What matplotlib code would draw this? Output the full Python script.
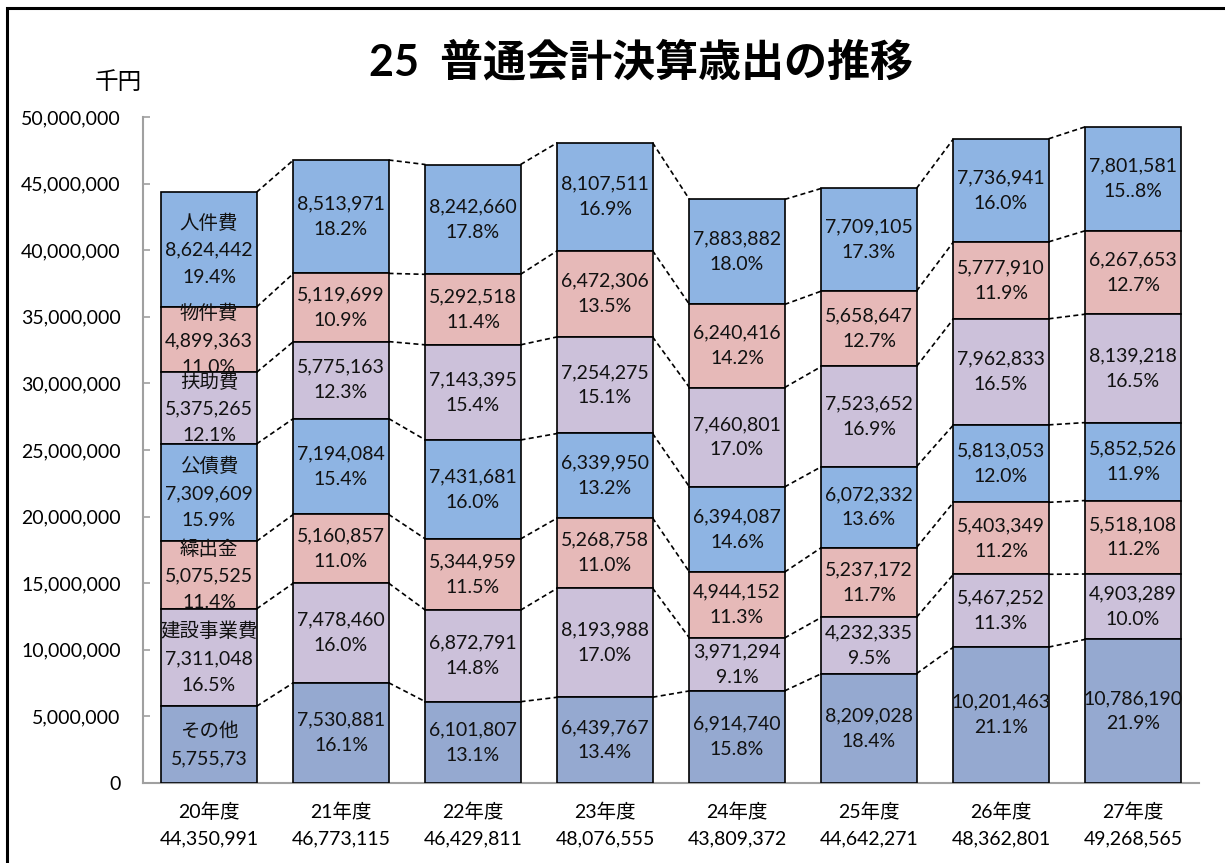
import matplotlib
matplotlib.use("Agg")
import matplotlib.pyplot as plt
from matplotlib.patches import Rectangle
import numpy as np

plt.rcParams['font.family'] = ['Lato', 'Noto Sans CJK JP', 'DejaVu Sans']

years = ["20年度", "21年度", "22年度", "23年度", "24年度", "25年度", "26年度", "27年度"]
totals = [44350991, 46773115, 46429811, 48076555, 43809372, 44642271, 48362801, 49268565]

# series, bottom to top
categories = ["その他", "建設事業費", "繰出金", "公債費", "扶助費", "物件費", "人件費"]
sonota   = [5755739, 7530881, 6101807, 6439767, 6914740, 8209028, 10201463, 10786190]
kensetsu = [7311048, 7478460, 6872791, 8193988, 3971294, 4232335, 5467252, 4903289]
kuridashi = [5075525, 5160857, 5344959, 5268758, 4944152, 5237172, 5403349, 5518108]
kousai   = [7309609, 7194084, 7431681, 6339950, 6394087, 6072332, 5813053, 5852526]
fujo     = [5375265, 5775163, 7143395, 7254275, 7460801, 7523652, 7962833, 8139218]
bukken   = [4899363, 5119699, 5292518, 6472306, 6240416, 5658647, 5777910, 6267653]
jinken   = [8624442, 8513971, 8242660, 8107511, 7883882, 7709105, 7736941, 7801581]

pct_sonota    = ["", "16.1%", "13.1%", "13.4%", "15.8%", "18.4%", "21.1%", "21.9%"]
pct_kensetsu  = ["16.5%", "16.0%", "14.8%", "17.0%", "9.1%", "9.5%", "11.3%", "10.0%"]
pct_kuridashi = ["11.4%", "11.0%", "11.5%", "11.0%", "11.3%", "11.7%", "11.2%", "11.2%"]
pct_kousai    = ["15.9%", "15.4%", "16.0%", "13.2%", "14.6%", "13.6%", "12.0%", "11.9%"]
pct_fujo      = ["12.1%", "12.3%", "15.4%", "15.1%", "17.0%", "16.9%", "16.5%", "16.5%"]
pct_bukken    = ["11.0%", "10.9%", "11.4%", "13.5%", "14.2%", "12.7%", "11.9%", "12.7%"]
pct_jinken    = ["19.4%", "18.2%", "17.8%", "16.9%", "18.0%", "17.3%", "16.0%", "15..8%"]

sonota_first_label = "5,755,73"

yticks = [0, 5000000, 10000000, 15000000, 20000000, 25000000, 30000000, 35000000, 40000000, 45000000, 50000000]

series = [sonota, kensetsu, kuridashi, kousai, fujo, bukken, jinken]
pcts = [pct_sonota, pct_kensetsu, pct_kuridashi, pct_kousai, pct_fujo, pct_bukken, pct_jinken]
colors = ["#95A9D0", "#CCC1DA", "#E6B9B8", "#8EB4E3", "#CCC1DA", "#E6B9B8", "#8EB4E3"]

W, H = 1225, 863
fig = plt.figure(figsize=(W / 100, H / 100), dpi=100)
ax = fig.add_axes([143 / W, 1 - 783 / H, (1199 - 143) / W, (783 - 117) / H])

x = np.arange(len(years))
width = 0.72
data = np.array(series, dtype=float)
bottoms = np.vstack([np.zeros(len(years)), np.cumsum(data, axis=0)[:-1]])
tops = np.cumsum(data, axis=0)

fs = 14
nser = len(series)
for k in range(nser):
    z = 10 + (nser - k) * 2  # top series drawn first, lower ones over them
    ax.bar(x, data[k], width, bottom=bottoms[k], color=colors[k],
           edgecolor="black", linewidth=1.2, zorder=z)
    for i in range(len(years)):
        cy = bottoms[k][i] + data[k][i] / 2
        val = f"{int(data[k][i]):,}"
        ls = 1.6
        if i == 0:
            ls = 1.7
            if k == 0:
                txt = f"{categories[k]}\n{sonota_first_label}"
            else:
                txt = f"{categories[k]}\n{val}\n{pcts[k][i]}"
        else:
            txt = f"{val}\n{pcts[k][i]}"
        ax.text(x[i], cy, txt, ha="center", va="center", fontsize=fs,
                linespacing=ls, color="#111111", zorder=z + 1)

# dashed connectors between bars
for k in range(nser):
    for i in range(len(years) - 1):
        ax.plot([x[i] + width / 2, x[i + 1] - width / 2],
                [tops[k][i], tops[k][i + 1]], linestyle=(0, (3, 2)),
                color="black", linewidth=1.2, zorder=5)

ax.set_xlim(-0.5, len(years) - 0.5)
ax.set_ylim(0, 50000000)
ax.set_yticks(yticks)
ax.set_yticklabels([f"{v:,}" for v in yticks], fontsize=fs)
ax.set_xticks(x)
ax.set_xticklabels([f"{y}\n{t:,}" for y, t in zip(years, totals)], fontsize=fs, linespacing=1.7)
ax.tick_params(axis="y", direction="in", length=5, width=1.2, color="#A0A0A0", pad=16)
ax.tick_params(axis="x", length=0, pad=14)
for s in ["top", "right"]:
    ax.spines[s].set_visible(False)
for s in ["left", "bottom"]:
    ax.spines[s].set_color("#A0A0A0")
    ax.spines[s].set_linewidth(1.5)

fig.text(641 / W, 1 - 62 / H, "25  普通会計決算歳出の推移", ha="center", va="center",
         fontsize=31, fontweight="bold")
fig.text(118 / W, 1 - 82 / H, "千円", ha="center", va="center", fontsize=17)

fig.patches.append(Rectangle((7 / W, -0.1), 1.2, 1 - 8 / H + 0.1, transform=fig.transFigure,
                             fill=False, edgecolor="black", linewidth=2.2))

fig.savefig("out.png", dpi=100)
